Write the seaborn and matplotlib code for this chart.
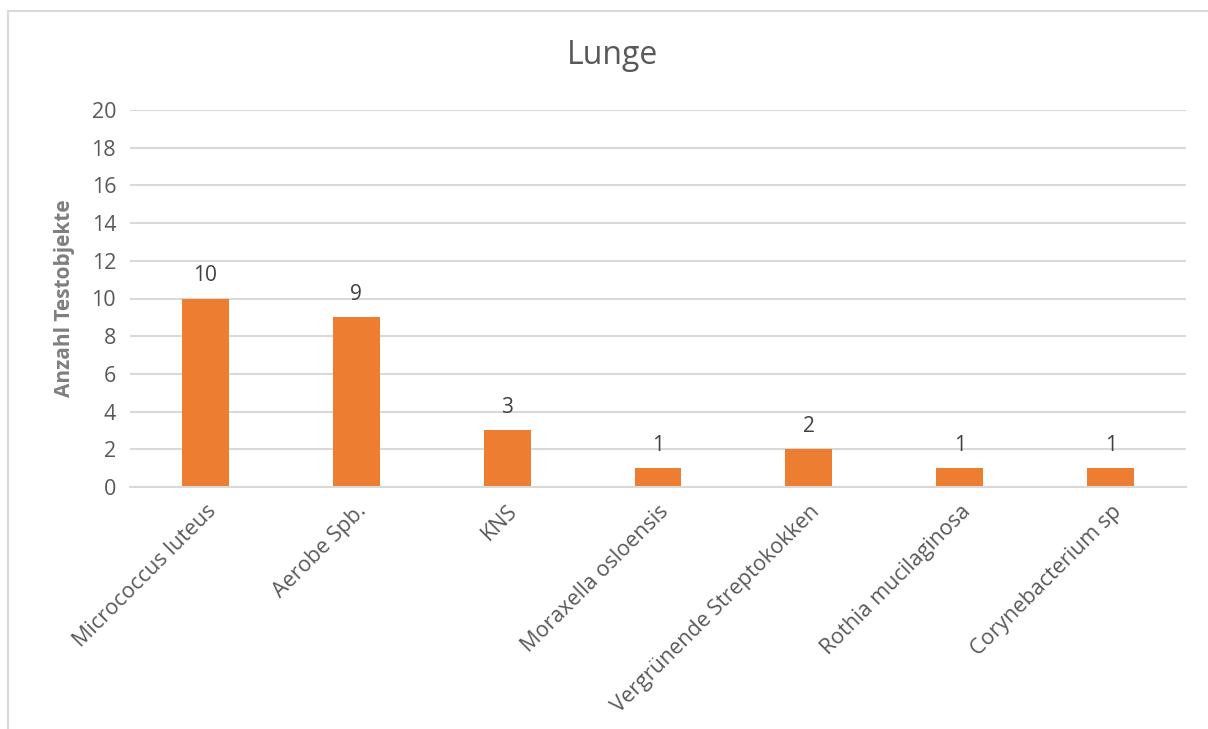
import matplotlib
matplotlib.use("Agg")
import matplotlib.pyplot as plt
from matplotlib.patches import Rectangle
import pandas as pd
import seaborn as sns

# data
categories = ["Micrococcus luteus", "Aerobe Spb.", "KNS", "Moraxella osloensis",
              "Vergrünende Streptokokken", "Rothia mucilaginosa", "Corynebacterium sp"]
counts = [10, 9, 3, 1, 2, 1, 1]

df = pd.DataFrame({"Keim": categories, "Anzahl": counts})

sns.set_style("white")
plt.rcParams["font.family"] = ["Open Sans", "DejaVu Sans"]

fig = plt.figure(figsize=(12.08, 7.29), dpi=100)
ax = fig.add_axes([130 / 1208, 1 - 487 / 729, (1186 - 130) / 1208, (487 - 110) / 729])

sns.barplot(data=df, x="Keim", y="Anzahl", color="#ED7D31", width=0.31,
            saturation=1, linewidth=0, ax=ax)

# value labels above bars
ax.bar_label(ax.containers[0], labels=[str(v) for v in counts], padding=9,
             fontsize=15, color="#404040")

ax.set_ylim(0, 20)
ax.set_xlim(-0.5, len(categories) - 0.5)
ax.set_yticks(range(0, 21, 2))
ax.yaxis.grid(True, color="#d9d9d9", linewidth=1.5)
ax.set_axisbelow(True)
for s in ["top", "right", "left"]:
    ax.spines[s].set_visible(False)
ax.spines["bottom"].set_color("#d9d9d9")
ax.spines["bottom"].set_linewidth(1.5)
ax.tick_params(axis="both", length=0, labelsize=15.5, colors="#595959", pad=10)
plt.setp(ax.get_xticklabels(), rotation=45, ha="right", rotation_mode="anchor")

ax.set_xlabel("")
ax.set_ylabel("Anzahl Testobjekte", fontsize=15, fontweight="bold", color="#7f7f7f",
              labelpad=12)
fig.text(612 / 1208, 1 - 55 / 729, "Lunge", fontsize=23, color="#595959",
         ha="center", va="center")

# chart frame (cropped on the right and bottom)
fig.patches.append(Rectangle((8 / 1208, -0.1), 1.2, 1 - 11 / 729 + 0.1,
                             transform=fig.transFigure, fill=False,
                             edgecolor="#d9d9d9", linewidth=1.5))

fig.savefig("out.png", dpi=100)
